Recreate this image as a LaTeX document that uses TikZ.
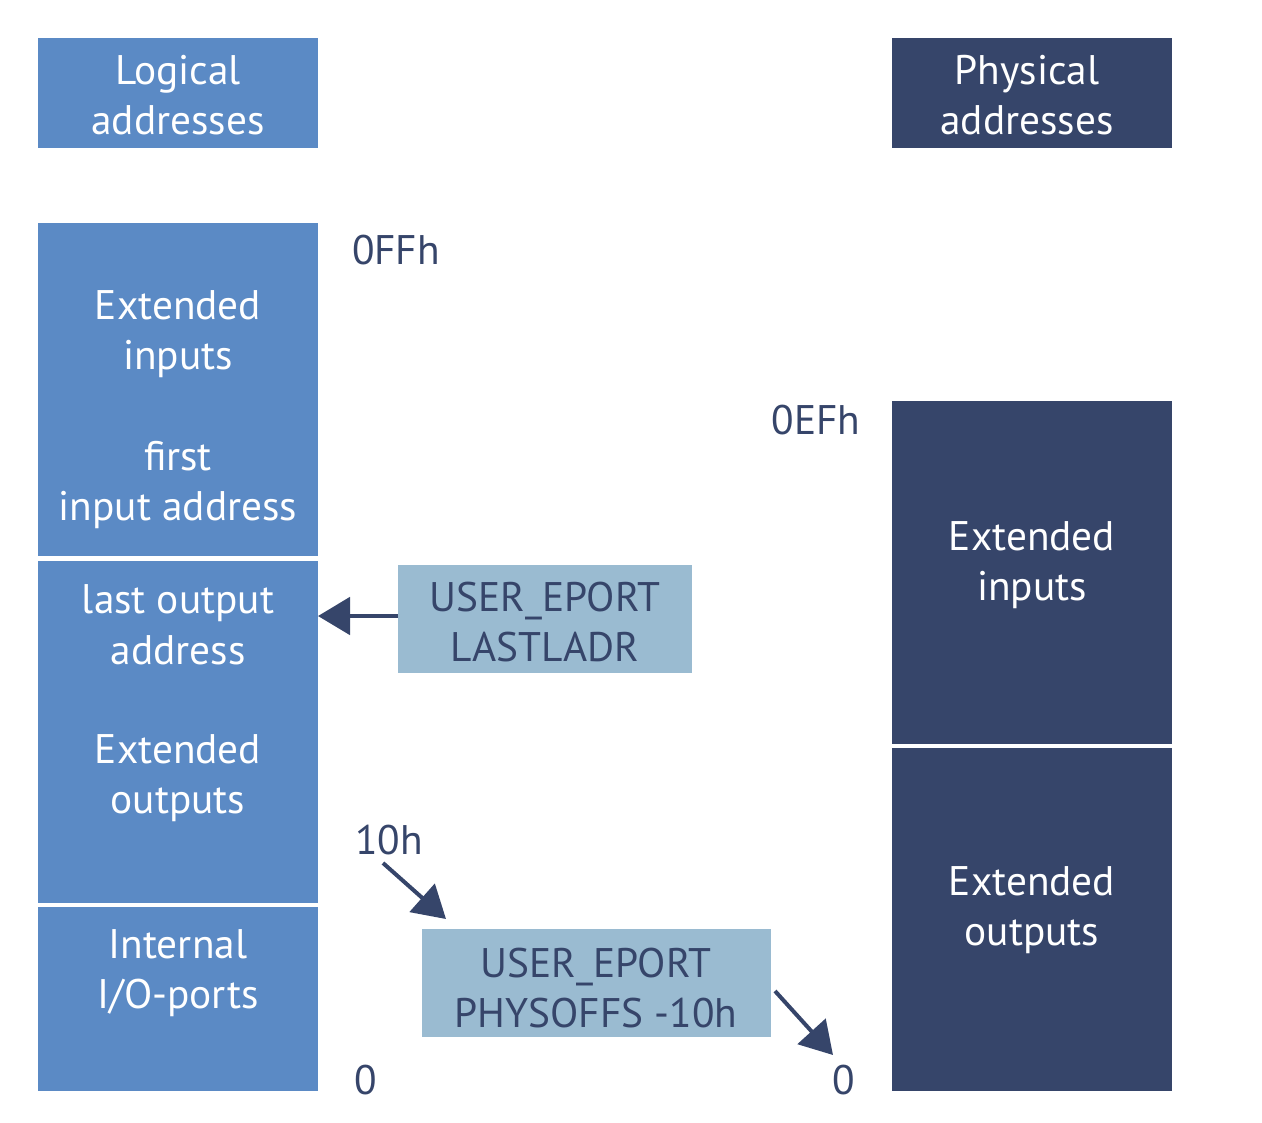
\documentclass[tikz,border=0pt]{standalone}
\usepackage{fontspec}
\setmainfont{PT Sans}
\usetikzlibrary{arrows.meta,fit}
\definecolor{midblue}{HTML}{5B8AC5}
\definecolor{navy}{HTML}{36456A}
\definecolor{lightblue}{HTML}{9ABBD1}
\tikzset{
  box/.style={draw=none,inner sep=0pt,outer sep=0pt},
  lbox/.style={box,fill=midblue},
  pbox/.style={box,fill=navy},
  ubox/.style={box,fill=lightblue},
  wtxt/.style={text=white,align=center,font=\fontsize{31}{38}\selectfont,inner sep=0pt},
  dtxt/.style={text=navy,align=center,font=\fontsize{31}{38}\selectfont,inner sep=0pt},
  arr/.style={draw=navy,line width=3pt,-{Triangle[length=24pt,width=28pt]}}
}
\begin{document}
\begin{tikzpicture}[x=0.75pt,y=-0.75pt]
\useasboundingbox (0,0) rectangle (1262,1122);
% headers
\node[lbox,fit={(38,38)(318,148)}] (lhead) {};
\node[wtxt] (lheadt) at (178,95) {Logical\\addresses};
\node[pbox,fit={(892,38)(1172,148)}] (phead) {};
\node[wtxt] (pheadt) at (1027,95) {Physical\\addresses};
% logical column
\node[lbox,fit={(38,223)(318,556)}] (l1) {};
\node[lbox,fit={(38,561)(318,903)}] (l2) {};
\node[lbox,fit={(38,907)(318,1091)}] (l3) {};
\node[wtxt] (t1) at (178,334) {Extended\\inputs};
\node[wtxt] (t2) at (178,485) {first\\input address};
\node[wtxt] (t3) at (178,625) {last output\\address};
\node[wtxt] (t4) at (178,778) {Extended\\outputs};
\node[wtxt] (t5) at (178,973) {Internal\\I/O-ports};
% physical column
\node[pbox,fit={(892,401)(1172,744)}] (p1) {};
\node[pbox,fit={(892,748)(1172,1091)}] (p2) {};
\node[wtxt] (t6) at (1032,565) {Extended\\inputs};
\node[wtxt] (t7) at (1032,910) {Extended\\outputs};
% user eport boxes
\node[ubox,fit={(398,565)(692,673)}] (u1) {};
\node[dtxt] (u1t) at (545,622) {USER\_EPORT\\LASTLADR};
\node[ubox,fit={(422,929)(771,1037)}] (u2) {};
\node[dtxt] (u2t) at (596,988) {USER\_EPORT\\PHYSOFFS -10h};
% labels
\node[dtxt] (a1) at (396,250) {0FFh};
\node[dtxt] (a2) at (816,420) {0EFh};
\node[dtxt] (a3) at (389,840) {10h};
\node[dtxt] (a4) at (366,1080) {0};
\node[dtxt] (a5) at (844,1080) {0};
% arrows
\coordinate (c0) at (398,616);
\coordinate (c1) at (383,863);
\coordinate (c2) at (446,919);
\coordinate (c3) at (775,991);
\coordinate (c4) at (833,1055);
\draw[arr] (c0) -- (c0 -| l2.east);
\draw[arr] (c1) -- (c2);
\draw[arr] (c3) -- (c4);
\end{tikzpicture}
\end{document}
